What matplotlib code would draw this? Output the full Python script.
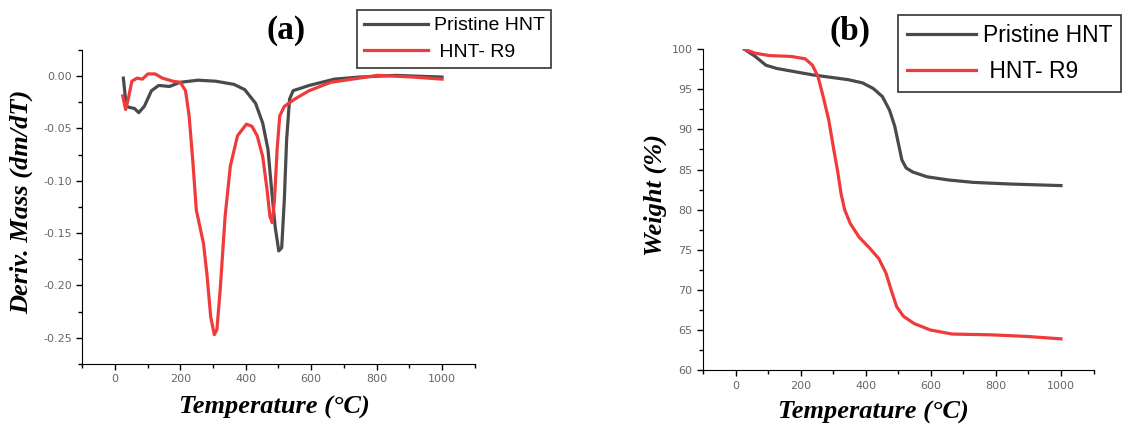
import numpy as np
import matplotlib.pyplot as plt
from matplotlib.ticker import MultipleLocator

# DTG curves (panel a)
dtg_temp_hnt = [26, 35, 45, 60, 73, 90, 112, 134, 167, 200, 254, 309, 364, 397, 430, 452, 468,
                479, 490, 501, 510, 518, 525, 534, 545, 594, 671, 748, 857, 1000]
dtg_hnt = [-0.002, -0.029, -0.030, -0.031, -0.035, -0.029, -0.014, -0.009, -0.010, -0.006, -0.004,
           -0.005, -0.008, -0.013, -0.026, -0.045, -0.070, -0.108, -0.144, -0.167, -0.164, -0.118,
           -0.061, -0.022, -0.014, -0.009, -0.003, -0.001, 0.0006, -0.001]

dtg_temp_r9 = [24, 33, 41, 52, 68, 84, 101, 123, 145, 178, 200, 216, 227, 238, 249, 260, 271, 282,
               293, 304, 312, 322, 337, 353, 375, 402, 419, 435, 452, 465, 474, 481, 488, 496, 504,
               518, 550, 594, 660, 748, 803, 912, 1000]
dtg_r9 = [-0.019, -0.032, -0.022, -0.005, -0.002, -0.003, 0.002, 0.002, -0.002, -0.005, -0.006,
          -0.014, -0.038, -0.080, -0.128, -0.144, -0.160, -0.191, -0.230, -0.247, -0.242, -0.204,
          -0.134, -0.086, -0.057, -0.046, -0.048, -0.057, -0.077, -0.108, -0.134, -0.140, -0.118,
          -0.070, -0.038, -0.029, -0.022, -0.014, -0.006, -0.002, 0.0006, -0.001, -0.003]

# TGA curves (panel b)
tga_temp_hnt = [27, 60, 93, 126, 181, 236, 291, 346, 390, 423, 451, 473, 489, 500, 511, 524, 544,
                588, 654, 731, 841, 1000]
tga_hnt = [100, 99.1, 98.0, 97.6, 97.2, 96.8, 96.5, 96.2, 95.8, 95.1, 94.1, 92.4, 90.4, 88.3,
           86.2, 85.2, 84.7, 84.1, 83.7, 83.4, 83.2, 83.0]

tga_temp_r9 = [27, 60, 104, 170, 214, 236, 253, 269, 286, 302, 313, 324, 335, 352, 379, 412, 440,
               462, 478, 495, 516, 549, 599, 665, 786, 896, 1000]
tga_r9 = [100, 99.5, 99.2, 99.1, 98.8, 98.0, 96.6, 94.1, 91.2, 87.4, 84.9, 82.0, 80.0, 78.3, 76.6,
          75.2, 73.9, 72.1, 70.0, 67.9, 66.7, 65.8, 65.0, 64.5, 64.4, 64.2, 63.9]

gray = '#4a4a4a'
red = '#ef3b3b'
serif = ['Liberation Serif', 'DejaVu Serif']

fig = plt.figure(figsize=(11.25, 4.24), dpi=100)
ax1 = fig.add_axes([0.073, 0.1415, 0.349, 0.741])
ax2 = fig.add_axes([0.625, 0.127, 0.347, 0.757])

ax1.plot(dtg_temp_hnt, dtg_hnt, color=gray, lw=2.3, label='Pristine HNT')
ax1.plot(dtg_temp_r9, dtg_r9, color=red, lw=2.3, label=' HNT- R9')
ax1.set_xlim(-100, 1100)
ax1.set_ylim(-0.275, 0.025)
ax1.yaxis.set_major_locator(MultipleLocator(0.05))
ax1.yaxis.set_minor_locator(MultipleLocator(0.025))
ax1.yaxis.set_major_formatter(plt.FuncFormatter(lambda v, p: f'{v:.2f}'))

ax2.plot(tga_temp_hnt, tga_hnt, color=gray, lw=2.3, label='Pristine HNT')
ax2.plot(tga_temp_r9, tga_r9, color=red, lw=2.3, label=' HNT- R9')
ax2.set_xlim(-100, 1100)
ax2.set_ylim(60, 100)
ax2.yaxis.set_major_locator(MultipleLocator(5))
ax2.yaxis.set_minor_locator(MultipleLocator(2.5))

for ax in (ax1, ax2):
    ax.xaxis.set_major_locator(MultipleLocator(200))
    ax.xaxis.set_minor_locator(MultipleLocator(100))
    ax.spines['top'].set_visible(False)
    ax.spines['right'].set_visible(False)
    ax.tick_params(which='both', direction='out', length=4, width=1, labelsize=8,
                   labelcolor='#666666')
    ax.tick_params(which='minor', length=3)
    ax.set_xticks([0, 200, 400, 600, 800, 1000])
    ax.set_xlabel('Temperature (°C)', family=serif, fontsize=19, fontweight='bold',
                  fontstyle='italic')

ax1.set_ylabel('Deriv. Mass (dm/dT)', family=serif, fontsize=19, fontweight='bold',
               fontstyle='italic')
ax2.set_ylabel('Weight (%)', family=serif, fontsize=19, fontweight='bold', fontstyle='italic')
ax1.xaxis.set_label_coords(0.489, -0.137)
ax1.xaxis.label.set_va('center')
ax1.yaxis.set_label_coords(-0.155, 0.516)
ax1.yaxis.label.set_va('center')
ax2.xaxis.set_label_coords(0.436, -0.131)
ax2.xaxis.label.set_va('center')
ax2.yaxis.set_label_coords(-0.123, 0.545)
ax2.yaxis.label.set_va('center')

fig.text(286 / 1125, 1 - 31 / 424, '(a)', family=serif, fontsize=24, fontweight='bold',
         ha='center', va='center')
fig.text(850 / 1125, 1 - 31 / 424, '(b)', family=serif, fontsize=24, fontweight='bold',
         ha='center', va='center')

leg1 = ax1.legend(loc='upper left', bbox_to_anchor=(357 / 1125, 1 - 10 / 424),
                  bbox_transform=fig.transFigure, prop={'family': 'Liberation Sans', 'size': 14},
                  frameon=True, fancybox=False, edgecolor='black', handlelength=3.3,
                  borderpad=0.35, labelspacing=0.45, handletextpad=0.3, borderaxespad=0)
leg1.get_frame().set_linewidth(1.2)
leg2 = ax2.legend(loc='upper left', bbox_to_anchor=(898 / 1125, 1 - 15 / 424),
                  bbox_transform=fig.transFigure, prop={'family': 'Liberation Sans', 'size': 16.5},
                  frameon=True, fancybox=False, edgecolor='black', handlelength=3.0,
                  borderpad=0.4, labelspacing=0.55, handletextpad=0.3, borderaxespad=0)
leg2.get_frame().set_linewidth(1.2)

fig.savefig('out.png', dpi=100)
